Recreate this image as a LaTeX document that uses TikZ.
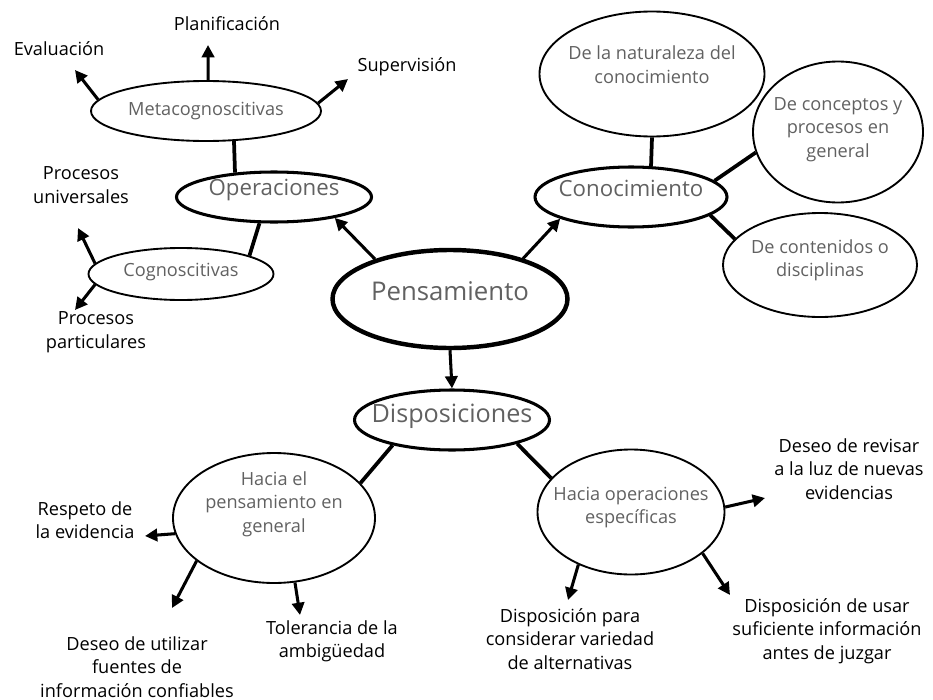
\documentclass[tikz,border=0pt]{standalone}
\usepackage{fontspec}
\setmainfont{Open Sans}
\usetikzlibrary{shapes.geometric,arrows.meta}

\begin{document}
\begin{tikzpicture}[x=0.3mm,y=-0.3mm,
    oval/.style 2 args={ellipse, draw, inner sep=0pt, line width=1.6pt,
      minimum width=#1*0.3mm, minimum height=#2*0.3mm},
    ovaltext/.style={text=black!62, align=center, font=\fontsize{15.5}{20}\selectfont},
    bigtext/.style={text=black!62, font=\fontsize{#1}{#1}\selectfont},
    lbl/.style={align=center, font=\fontsize{15.5}{20}\selectfont},
    link/.style={line width=3.2pt},
    arr/.style={line width=2.6pt, -{Triangle[length=10.5pt,width=10.5pt]}}]
  \useasboundingbox (0,0) rectangle (933,700);

  % ---- central ovals ------------------------------
  \node[oval={235}{98}, line width=3.8pt,
    label={[bigtext=22, yshift=7pt]center:Pensamiento}] (pens) at (450,299) {};
  \node[oval={195}{50}, line width=2.6pt,
    label={[bigtext=19, yshift=6pt]center:Operaciones}] (oper) at (274,197) {};
  \node[oval={192}{60}, line width=2.6pt,
    label={[bigtext=19, yshift=7pt]center:Conocimiento}] (conoc) at (631,197) {};
  \node[oval={195}{60}, line width=2.6pt,
    label={[bigtext=21.5, yshift=3pt]center:Disposiciones}] (disp) at (452,420) {};

  % ---- second level ovals -------------------------
  \node[oval={230}{60}, label={[ovaltext]center:Metacognoscitivas}] (meta) at (206,111) {};
  \node[oval={185}{52}, label={[ovaltext, yshift=2pt]center:Cognoscitivas}] (cogn) at (181,274) {};
  \node[oval={225}{125},
    label={[ovaltext, yshift=8pt]center:{De la naturaleza del\\conocimiento}}] (nat) at (652,74) {};
  \node[oval={170}{141},
    label={[ovaltext, yshift=2pt]center:{De conceptos y\\procesos en\\general}}] (conc) at (838,132) {};
  \node[oval={194}{104},
    label={[ovaltext, yshift=4pt]center:{De contenidos o\\disciplinas}}] (cont) at (820,265) {};
  \node[oval={202}{130},
    label={[ovaltext, yshift=12pt]center:{Hacia el\\pensamiento en\\general}}] (hpg) at (274,518) {};
  \node[oval={187}{125},
    label={[ovaltext, yshift=4pt]center:{Hacia operaciones\\específicas}}] (hoe) at (631,512) {};

  % ---- plain labels -------------------------------
  \node[lbl] (plan) at (227,24) {Planificación};
  \node[lbl] (eval) at (59,49) {Evaluación};
  \node[lbl] (sup) at (407,67) {Supervisión};
  \node[lbl] (puniv) at (81,185) {Procesos\\universales};
  \node[lbl] (ppart) at (96,332) {Procesos\\particulares};
  \node[lbl] (resp) at (85,520) {Respeto de\\la evidencia};
  \node[lbl] (util) at (137,667) {Deseo de utilizar\\fuentes de\\información confiables};
  \node[lbl] (toler) at (332,641) {Tolerancia de la\\ambigüedad};
  \node[lbl] (alter) at (570,639) {Disposición para\\considerar variedad\\de alternativas};
  \node[lbl] (usar) at (827,631) {Disposición de usar\\suficiente información\\antes de juzgar};
  \node[lbl] (revis) at (849,469) {Deseo de revisar\\a la luz de nuevas\\evidencias};

  % ---- arrow tips ---------------------------------
  \coordinate (plan-tip) at (208,45);
  \coordinate (eval-tip) at (75,70);
  \coordinate (sup-tip) at (348,79);
  \coordinate (puniv-tip) at (78,228);
  \coordinate (ppart-tip) at (75,310);
  \coordinate (resp-tip) at (145,536);
  \coordinate (util-tip) at (172,608);
  \coordinate (toler-tip) at (300,615);
  \coordinate (alter-tip) at (568,600);
  \coordinate (usar-tip) at (730,595);
  \coordinate (revis-tip) at (765,498);

  % ---- connectors ---------------------------------
  \draw[arr] (pens.152) -- (oper.-19);
  \draw[arr] (pens.29) -- (conoc.197);
  \draw[arr] (pens.south) -- (disp.north);

  \draw[link] (meta.-47) -- (oper.148);
  \draw[link] (oper.241) -- (cogn.15);
  \draw[link] (nat.south) -- (conoc.57);
  \draw[link] (conoc.11) -- (conc.194);
  \draw[link] (conoc.-13) -- (cont.163);
  \draw[link] (disp.203) -- (hpg.22);
  \draw[link] (disp.-20) -- (hoe.157);

  \draw[arr] (meta.86) -- (plan-tip);
  \draw[arr] (meta.174) -- (eval-tip);
  \draw[arr] (meta.4) -- (sup-tip);
  \draw[arr] (cogn.173) -- (puniv-tip);
  \draw[arr] (cogn.187) -- (ppart-tip);
  \draw[arr] (hpg.189) -- (resp-tip);
  \draw[arr] (hpg.209) -- (util-tip);
  \draw[arr] (hpg.-72) -- (toler-tip);
  \draw[arr] (hoe.225) -- (alter-tip);
  \draw[arr] (hoe.-30) -- (usar-tip);
  \draw[arr] (hoe.3) -- (revis-tip);
\end{tikzpicture}
\end{document}
